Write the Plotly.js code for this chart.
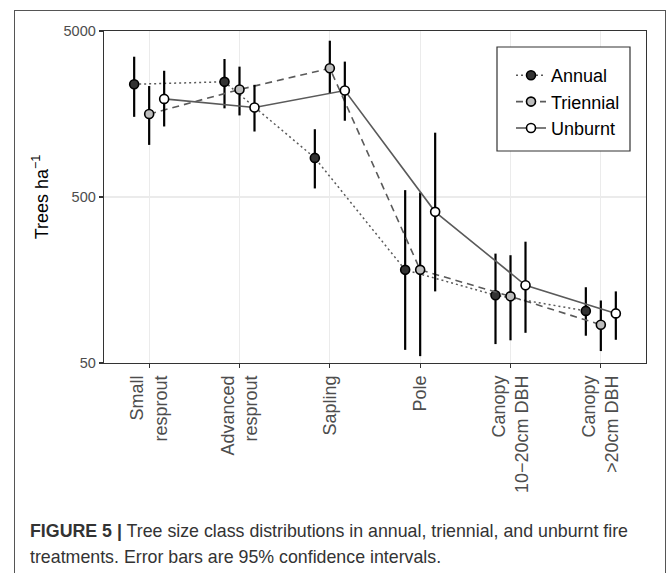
<!DOCTYPE html>
<html>
<head>
<meta charset="utf-8">
<script src="https://cdn.plot.ly/plotly-3.0.1.min.js"></script>
<style>
  html, body { margin: 0; padding: 0; background: #fff; overflow: hidden; }
  #wrap { position: relative; width: 669px; height: 573px; }
  #chart { position: absolute; left: 0; top: 0; width: 669px; height: 573px; }
  #frame { position: absolute; left: 14px; top: 10px; width: 652px; height: 600px;
           border: 1.5px solid #555; border-bottom: none; pointer-events: none; box-sizing: border-box; }
</style>
</head>
<body>
<div id="wrap">
  <div id="chart"></div>
  <div id="frame"></div>
</div>
<script>
// ---- data ----
const categories = ["Small<br>resprout", "Advanced<br>resprout", "Sapling", "Pole",
                    "Canopy<br>10\u221220cm DBH", "Canopy<br>&gt;20cm DBH"];

const annual      = [2390, 2470, 860, 182, 128, 103];
const annualLo    = [1520, 1710, 563, 60, 65, 73];
const annualHi    = [3500, 3390, 1280, 550, 228, 143];

const triennial   = [1580, 2220, 2980, 182, 126, 85];
const triennialLo = [1030, 1550, 2090, 55, 68.5, 59];
const triennialHi = [2330, 3050, 4370, 532, 223, 119];

const unburnt     = [1950, 1730, 2190, 407, 147, 99.5];
const unburntLo   = [1330, 1240, 1440, 135, 76, 69];
const unburntHi   = [2880, 2370, 3270, 1220, 269, 135];

const yTicks = [50, 500, 5000];
const yTickText = ["50", "500", "5000"];

// ---- build traces ----
const dodge = 0.166;
const idx = categories.map((_, i) => i);

function series(name, vals, lo, hi, off, fill, dash, lw) {
  return {
    type: "scatter",
    mode: "lines+markers",
    name: name,
    x: idx.map(i => i + off),
    y: vals,
    line: { color: "#5a5a5a", width: lw, dash: dash },
    marker: { size: 9, color: fill, line: { color: "#000", width: 1.6 } },
    error_y: {
      type: "data", symmetric: false,
      array: vals.map((v, i) => hi[i] - v),
      arrayminus: vals.map((v, i) => v - lo[i]),
      color: "#000", thickness: 2.2, width: 0
    },
    hoverinfo: "x+y"
  };
}

const traces = [
  series("Annual", annual, annualLo, annualHi, -dodge, "#333333", "2px,3px", 1.5),
  series("Triennial", triennial, triennialLo, triennialHi, 0, "#BDBDBD", "7px,5px", 1.6),
  series("Unburnt", unburnt, unburntLo, unburntHi, dodge, "#FFFFFF", "solid", 1.6)
];

// ---- layout ----
const L = 104, R = 23, T = 31, B = 210, W = 669, H = 573;
const pw = W - L - R, ph = H - T - B;
const px2x = p => (p - L) / pw;
const py2y = p => 1 - (p - T) / ph;

const font = "Liberation Sans, Arial, Helvetica, sans-serif";

const layout = {
  width: W, height: H,
  margin: { l: L, r: R, t: T, b: B, pad: 0 },
  paper_bgcolor: "rgba(0,0,0,0)",
  plot_bgcolor: "#fff",
  font: { family: font, color: "#000" },
  showlegend: true,
  legend: {
    x: px2x(511), y: py2y(57), xanchor: "left", yanchor: "top",
    bgcolor: "rgba(0,0,0,0)", borderwidth: 0,
    font: { size: 18, color: "#000", family: font },
    itemwidth: 30
  },
  shapes: [
    {
      type: "rect", xref: "paper", yref: "paper", layer: "above",
      x0: px2x(497), x1: px2x(630), y0: py2y(151), y1: py2y(47),
      fillcolor: "#fff", line: { color: "#333", width: 1.2 }
    }
  ],
  xaxis: {
    range: [-0.5, 5.5],
    tickmode: "array", tickvals: idx, ticktext: categories,
    tickangle: -90,
    tickfont: { size: 18, color: "#4D4D4D", family: font },
    ticks: "outside", ticklen: 4, tickwidth: 1.2, tickcolor: "#333",
    showgrid: true, gridcolor: "#EBEBEB", gridwidth: 1.3,
    showline: true, mirror: true, linecolor: "#333", linewidth: 1.3,
    zeroline: false, fixedrange: true
  },
  yaxis: {
    type: "log",
    range: [Math.log10(50), Math.log10(5000)],
    tickmode: "array", tickvals: yTicks, ticktext: yTickText,
    tickfont: { size: 14.5, color: "#4D4D4D", family: font },
    ticks: "outside", ticklen: 4, tickwidth: 1.2, tickcolor: "#333",
    showgrid: true, gridcolor: "#EBEBEB", gridwidth: 1.3,
    showline: true, mirror: true, linecolor: "#333", linewidth: 1.3,
    zeroline: false, fixedrange: true,
    title: { text: "Trees ha<sup>\u22121</sup>", font: { size: 18, color: "#000", family: font }, standoff: 10 }
  },
  annotations: [
    {
      xref: "paper", yref: "paper", x: px2x(28), y: py2y(531),
      xanchor: "left", yanchor: "middle", showarrow: false, align: "left",
      text: "<b>FIGURE 5 |</b> Tree size class distributions in annual, triennial, and unburnt fire",
      font: { size: 17.8, color: "#333", family: font }
    },
    {
      xref: "paper", yref: "paper", x: px2x(28), y: py2y(556.5),
      xanchor: "left", yanchor: "middle", showarrow: false, align: "left",
      text: "treatments. Error bars are 95% confidence intervals.",
      font: { size: 17.8, color: "#333", family: font }
    }
  ]
};

Plotly.newPlot("chart", traces, layout, { displayModeBar: false, staticPlot: true });
</script>
</body>
</html>
